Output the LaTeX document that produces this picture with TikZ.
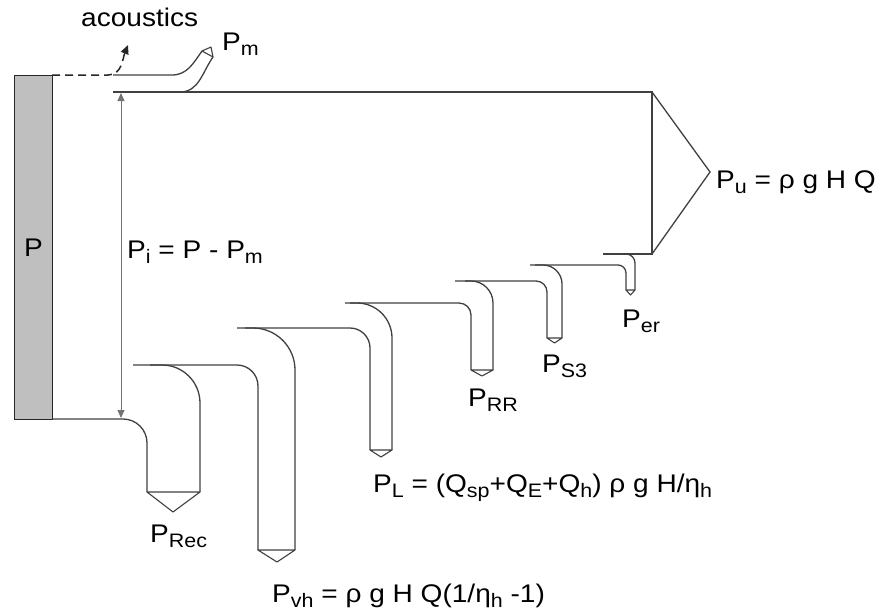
\documentclass[tikz,border=0pt]{standalone}
\usepackage{fontspec}
\setmainfont{Liberation Sans}[FakeStretch=1.1]
\usetikzlibrary{arrows.meta, positioning}

\newcommand{\dn}[1]{\raisebox{-5.5pt}{\fontsize{19.5}{20}\selectfont #1}}

\begin{document}
\begin{tikzpicture}[
  x=1pt, y=-1pt,
  >={Triangle[length=8pt, width=7pt]},
  pipe/.style={draw=black!75, line width=1.3pt},
  endcap/.style={draw=black!75, line width=1.1pt, fill=white, line join=round},
  lbl/.style={anchor=base west, inner sep=0pt, font=\fontsize{25.5}{30}\selectfont},
]
\useasboundingbox (0,0) rectangle (883,614);

% input power
\node[draw=black!85, line width=1pt, fill=black!25, minimum width=38pt, minimum height=344pt,
  inner sep=0pt, anchor=north west, font=\fontsize{25.5}{30}\selectfont] (bar) at (14,75) {P};

% acoustic loss
\coordinate (acstart) at (52,75);
\coordinate (acend) at (128,45);
\draw[black!85, line width=1.5pt, dash pattern=on 8pt off 5pt, -{Triangle[length=9pt, width=8pt]}]
  (acstart) -- (108,75) to[out=0, in=-112] (acend);
\node[lbl] (acoustics) at (81,26) {acoustics};

% mechanical loss branch
\draw[pipe] (113,75) -- (172,75) to[out=0, in=-125] (202,51);
\draw[pipe] (180,92) to[out=0, in=-125] (213,57);
\draw[endcap] (202,51) -- (213,57) -- (211,47) -- cycle;
\node[lbl] (pm) at (222,50) {P\dn{m}};

% main flow and useful power
\draw[pipe] (113,92) -- (652,92) -- (652,254) -- (603,254);
\draw[pipe] (652,92) -- (710,172) -- (652,254);
\node[lbl] (pu) at (716,188) {P\dn{u} = ρ g H Q};

% internal power
\coordinate (itop) at (121,93);
\coordinate (ibot) at (121,418);
\draw[black!55, line width=0.9pt, <->] (itop) -- (ibot);
\node[lbl] (pi) at (127,258) {P\dn{i} = P - P\dn{m}};

% recirculation
\draw[pipe, rounded corners=24pt] (52,419) -- (147,419) -- (147,492);
\draw[pipe, rounded corners=38pt] (150,365) -- (200,365) -- (200,492);
\draw[endcap] (147,492) -- (200,492) -- (173,512) -- cycle;
\node[lbl] (prec) at (150,542) {P\dn{Rec}};

% hydraulic losses
\draw[pipe, rounded corners=21pt] (133,365) -- (258,365) -- (258,550);
\draw[pipe, rounded corners=42pt] (245,328) -- (295,328) -- (295,550);
\draw[endcap] (258,550) -- (295,550) -- (277,562) -- cycle;
\node[lbl] (pvh) at (272,602) {P\dn{vh} = ρ g H Q(1/η\dn{h} -1)};

% leakage
\draw[pipe, rounded corners=20pt] (237,328) -- (370,328) -- (370,450);
\draw[pipe, rounded corners=35pt] (350,303) -- (392,303) -- (392,450);
\draw[endcap] (370,450) -- (392,450) -- (381,457) -- cycle;
\node[lbl] (pl) at (373,492) {P\dn{L} = (Q\dn{sp}+Q\dn{E}+Q\dn{h}) ρ g H/η\dn{h}};

% disk friction
\draw[pipe, rounded corners=12pt] (345,303) -- (471,303) -- (471,370);
\draw[pipe, rounded corners=22pt] (465,281) -- (493,281) -- (493,370);
\draw[endcap] (471,370) -- (493,370) -- (482,376) -- cycle;
\node[lbl] (prr) at (468,406) {P\dn{RR}};

% balance device
\draw[pipe, rounded corners=11pt] (455,281) -- (547,281) -- (547,338);
\draw[pipe, rounded corners=19pt] (535,265) -- (562,265) -- (562,338);
\draw[endcap] (547,338) -- (562,338) -- (554.5,343) -- cycle;
\node[lbl] (ps3) at (542,372) {P\dn{S3}};

% other losses
\draw[pipe, rounded corners=8pt] (530,265) -- (626,265) -- (626,290);
\draw[pipe, rounded corners=9pt] (620,254) -- (635,254) -- (635,290);
\draw[endcap] (626,290) -- (635,290) -- (630.5,295) -- cycle;
\node[lbl] (per) at (622,327) {P\dn{er}};

\end{tikzpicture}
\end{document}
